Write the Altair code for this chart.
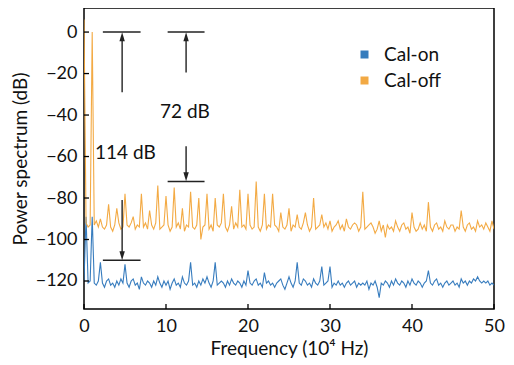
import altair as alt
import pandas as pd

# frequency grid (10^4 Hz), step 0.25
freq = [i * 0.25 for i in range(201)]

cal_off = [
    6, -92, -94, -93,
    0, -93, -91, -94,
    -90, -94, -95, -93,
    -83, -94, -96, -93,
    -85, -92, -95, -94,
    -78, -93, -94, -92,
    -89, -95, -93, -94,
    -78, -94, -92, -95,
    -86, -93, -95, -92,
    -74, -95, -94, -93,
    -79, -93, -96, -94,
    -75, -94, -92, -95,
    -85, -96, -93, -94,
    -77, -94, -95, -93,
    -80, -100, -94, -93,
    -78, -95, -93, -96,
    -80, -93, -94, -92,
    -78, -94, -96, -93,
    -84, -95, -92, -94,
    -76, -94, -93, -95,
    -78, -93, -95, -94,
    -72, -94, -96, -93,
    -78, -95, -93, -94,
    -78, -93, -94, -96,
    -87, -94, -95, -93,
    -85, -96, -93, -94,
    -88, -94, -95, -92,
    -87, -93, -96, -94,
    -80, -95, -94, -93,
    -88, -94, -92, -95,
    -91, -96, -94, -93,
    -91, -95, -93, -96,
    -90, -94, -95, -93,
    -92, -93, -96, -94,
    -77, -95, -94, -93,
    -92, -94, -97, -95,
    -91, -96, -93, -99,
    -93, -95, -94, -96,
    -91, -94, -96, -93,
    -92, -95, -94, -97,
    -87, -94, -96, -95,
    -92, -95, -93, -96,
    -82, -94, -96, -93,
    -92, -95, -94, -96,
    -91, -94, -95, -93,
    -93, -96, -94, -95,
    -86, -94, -96, -93,
    -92, -95, -94, -96,
    -91, -94, -93, -95,
    -92, -94, -96, -91,
    -95,
]

cal_on = [
    -120, -89, -121, -120,
    -89, -121, -122, -120,
    -111, -121, -123, -120,
    -119, -122, -121, -123,
    -120, -122, -119, -121,
    -112, -121, -123, -120,
    -119, -122, -121, -124,
    -118, -121, -122, -120,
    -121, -123, -120, -122,
    -118, -121, -123, -120,
    -122, -120, -124, -121,
    -119, -122, -121, -123,
    -118, -121, -122, -120,
    -111, -122, -121, -123,
    -120, -122, -119, -121,
    -118, -121, -123, -120,
    -111, -122, -121, -120,
    -121, -123, -120, -122,
    -119, -121, -122, -120,
    -121, -123, -120, -122,
    -115, -121, -122, -120,
    -119, -122, -121, -123,
    -116, -121, -120, -122,
    -121, -123, -121, -120,
    -119, -122, -124, -121,
    -118, -121, -123, -120,
    -111, -121, -122, -119,
    -120, -122, -121, -123,
    -119, -121, -122, -120,
    -113, -122, -121, -120,
    -113, -123, -121, -122,
    -120, -122, -121, -123,
    -121, -120, -122, -121,
    -120, -123, -121, -122,
    -121, -122, -120, -124,
    -121, -122, -120, -123,
    -128, -121, -122, -120,
    -121, -123, -120, -122,
    -119, -121, -122, -120,
    -121, -123, -120, -122,
    -119, -121, -122, -120,
    -121, -123, -121, -120,
    -115, -121, -122, -120,
    -119, -122, -121, -123,
    -121, -120, -122, -121,
    -120, -122, -121, -123,
    -119, -121, -120, -122,
    -120, -121, -119, -120,
    -118, -120, -121, -120,
    -121, -120, -122, -121,
    -122,
]

series_names = ["Cal-on", "Cal-off"]
series_colors = ["#2c75ba", "#f2a53a"]

# annotation geometry (data units)
bar_x1 = [2.3, 10.2, 10.2, 2.3]
bar_x2 = [6.9, 14.7, 14.7, 6.9]
bar_y = [0, 0, -72, -110]
arrow_x = [4.65, 12.45, 12.45, 4.65]
arrow_from = [-29, -19.5, -55, -81]
arrow_to = [-2, -2, -70, -108]
head_y = [-2.2, -2.2, -69.8, -107.8]
head_dir = ["up", "up", "down", "down"]
label_x = [12.3, 5.05]
label_y = [-38.4, -58.3]
label_text = ["72 dB", "114 dB"]
x_ticks = [0, 10, 20, 30, 40, 50]
y_ticks = [-120, -100, -80, -60, -40, -20, 0]

FONT = "Lato"
W, H = 410, 301

rows = []
for f, v in zip(freq, cal_on):
    rows.append({"x": f, "y": v, "series": "Cal-on"})
for f, v in zip(freq, cal_off):
    rows.append({"x": f, "y": v, "series": "Cal-off"})
spec = pd.DataFrame(rows)

xs = alt.Scale(domain=[0, 50], nice=False, zero=False)
ys = alt.Scale(domain=[-133.5, 11.6], nice=False, zero=False)
xt = "Frequency (10⁴ Hz)"
yt = "Power spectrum (dB)"

lines = alt.Chart(spec).mark_line(strokeWidth=1.1, clip=True, opacity=0.95).encode(
    x=alt.X("x:Q", scale=xs, title=xt,
            axis=alt.Axis(values=x_ticks, ticks=False, grid=False, domain=False,
                          labelFlush=False, labelPadding=8, titlePadding=4)),
    y=alt.Y("y:Q", scale=ys, title=yt,
            axis=alt.Axis(values=y_ticks, ticks=False, grid=False, domain=False,
                          labelFlush=False, labelPadding=7, titlePadding=5)),
    color=alt.Color("series:N",
                    scale=alt.Scale(domain=series_names, range=series_colors),
                    legend=alt.Legend(title=None, orient="none", legendX=271, legendY=37,
                                      symbolType="square", symbolSize=16,
                                      symbolStrokeWidth=4, labelFontSize=19,
                                      labelFont=FONT, labelColor="#111",
                                      rowPadding=5, labelOffset=10)),
    order="x:Q",
)

bars_df = pd.DataFrame({"x": bar_x1, "x2": bar_x2, "y": bar_y})
bars = alt.Chart(bars_df).mark_rule(color="#222", strokeWidth=1.5).encode(
    x=alt.X("x:Q", scale=xs, title=xt), x2="x2:Q",
    y=alt.Y("y:Q", scale=ys, title=yt))

arr_df = pd.DataFrame({"x": arrow_x, "y": arrow_from, "y2": arrow_to})
arrows = alt.Chart(arr_df).mark_rule(color="#222", strokeWidth=1.4).encode(
    x=alt.X("x:Q", scale=xs, title=xt),
    y=alt.Y("y:Q", scale=ys, title=yt), y2="y2:Q")

heads_df = pd.DataFrame({"x": arrow_x, "y": head_y, "dir": head_dir})
up = alt.Chart(heads_df).transform_filter(alt.datum.dir == "up").mark_point(
    shape="M-0.6,1L0,-1L0.6,1Z", filled=True, size=81, color="#222", opacity=1,
    strokeWidth=0).encode(
    x=alt.X("x:Q", scale=xs, title=xt), y=alt.Y("y:Q", scale=ys, title=yt))
down = alt.Chart(heads_df).transform_filter(alt.datum.dir == "down").mark_point(
    shape="M-0.6,-1L0,1L0.6,-1Z", filled=True, size=81, color="#222", opacity=1,
    strokeWidth=0).encode(
    x=alt.X("x:Q", scale=xs, title=xt), y=alt.Y("y:Q", scale=ys, title=yt))

lab_df = pd.DataFrame({"x": label_x, "y": label_y, "t": label_text})
labels = alt.Chart(lab_df).mark_text(font=FONT, fontSize=19, color="#111").encode(
    x=alt.X("x:Q", scale=xs, title=xt), y=alt.Y("y:Q", scale=ys, title=yt), text="t:N")

xtk = alt.Chart(pd.DataFrame({"x": x_ticks})).mark_rule(color="black", strokeWidth=1.3).encode(
    x=alt.X("x:Q", scale=xs, title=xt), y=alt.value(H), y2=alt.value(H - 5))
ytk = alt.Chart(pd.DataFrame({"y": y_ticks})).mark_rule(color="black", strokeWidth=1.3).encode(
    y=alt.Y("y:Q", scale=ys, title=yt), x=alt.value(0), x2=alt.value(5))

chart = alt.layer(lines, bars, arrows, up, down, labels, xtk, ytk).properties(
    width=W, height=H,
    background="white",
    autosize=alt.AutoSizeParams(type="none"),
    padding={"left": 76, "top": 0, "right": 12, "bottom": 52},
).configure_view(stroke="black", strokeWidth=1.5).configure_axis(
    labelFont=FONT, titleFont=FONT, labelFontSize=18, titleFontSize=19,
    labelColor="#111", titleColor="#111", titleFontWeight="normal",
)

chart.save("out.html", embed_options={"renderer": "svg", "actions": False})
